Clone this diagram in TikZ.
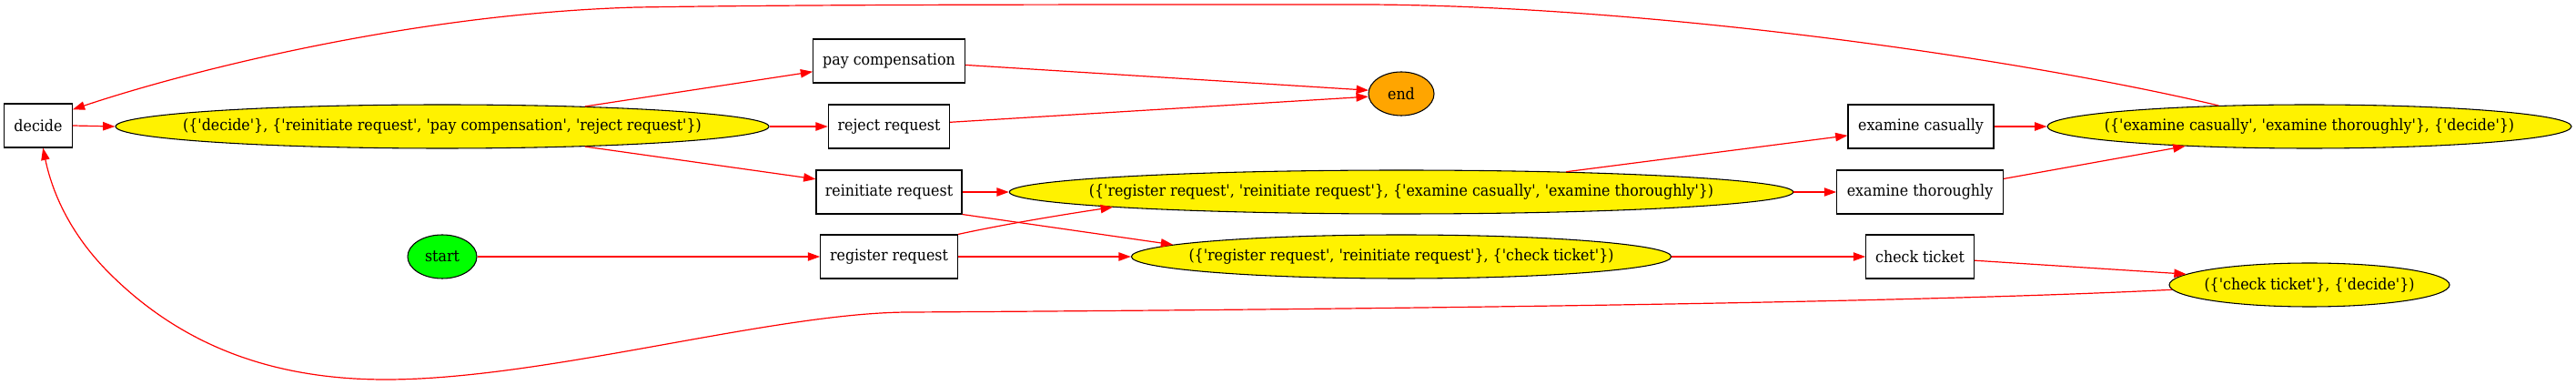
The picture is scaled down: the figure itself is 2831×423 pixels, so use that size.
\documentclass[tikz,border=0pt]{standalone}
\usepackage{fontspec}
\setmainfont{DejaVu Serif}[Ligatures=TeXOff,FakeStretch=0.915]
\usetikzlibrary{arrows.meta,shapes.geometric}
\newcommand{\fs}{\fontsize{13pt}{15pt}\selectfont}
\newcommand{\zw}[1]{\makebox[0pt]{#1}}
\definecolor{gvorange}{HTML}{FFA500}
\tikzset{
  box/.style={draw, line width=0.8pt, rectangle, minimum height=36pt, inner sep=0pt, font=\fs},
  ell/.style={draw, line width=0.8pt, ellipse, minimum height=36pt, inner sep=0pt, font=\fs, fill=yellow},
  edge/.style={draw=red, line width=0.9pt, -{Triangle[length=10pt,width=7pt]}}
}
\begin{document}
\begin{tikzpicture}[x=0.75pt,y=-0.75pt]
\useasboundingbox (0,0) rectangle (2831,423);
% nodes
\node[box, minimum width=56pt] (decide) at (42,138) {\zw{decide}};
\node[ell, minimum width=538.5pt] (e1) at (486,139) {\zw{(\{'decide'\}, \{'reinitiate request', 'pay compensation', 'reject request'\})}};
\node[ell, fill=green, minimum width=57pt] (start) at (486,282) {\zw{start}};
\node[box, minimum width=125pt] (pay) at (977,67) {\zw{pay compensation}};
\node[box, minimum width=100pt] (reject) at (977,139) {\zw{reject request}};
\node[box, minimum width=120pt] (reinit) at (977,211) {\zw{reinitiate request}};
\node[box, minimum width=113pt] (register) at (977,282) {\zw{register request}};
\node[ell, fill=gvorange, minimum width=54pt] (end) at (1540,103) {\zw{end}};
\node[ell, minimum width=646pt] (e2) at (1540,211) {\zw{(\{'register request', 'reinitiate request'\}, \{'examine casually', 'examine thoroughly'\})}};
\node[ell, minimum width=445pt] (e3) at (1540,282) {\zw{(\{'register request', 'reinitiate request'\}, \{'check ticket'\})}};
\node[box, minimum width=120pt] (exc) at (2111,139) {\zw{examine casually}};
\node[box, minimum width=137pt] (ext) at (2110,211) {\zw{examine thoroughly}};
\node[box, minimum width=89pt] (chk) at (2110,282) {\zw{check ticket}};
\node[ell, minimum width=432pt] (e4) at (2538,139) {\zw{(\{'examine casually', 'examine thoroughly'\}, \{'decide'\})}};
\node[ell, minimum width=231pt] (e5) at (2538,313) {\zw{(\{'check ticket'\}, \{'decide'\})}};
% edges
\draw[edge] (decide.east) -- (e1.west);
\draw[edge] (e1.8.3) -- (pay.188.9);
\draw[edge] (e1.east) -- (reject.west);
\draw[edge] (e1.-8.3) -- (reinit.170.8);
\draw[edge] (pay.-3.4) -- (end.174);
\draw[edge] (reject.4.3) -- (end.185);
\draw[edge] (reinit.east) -- (e2.west);
\draw[edge] (reinit.south east) -- (e3.177.1);
\draw[edge] (register.north east) .. controls (1110,245) and (1180,234) .. (e2.183.3);
\draw[edge] (register.east) -- (e3.west);
\draw[edge] (start.east) -- (register.west);
\draw[edge] (e2.7.07) -- (exc.187.8);
\draw[edge] (e2.east) -- (ext.west);
\draw[edge] (e3.east) -- (chk.west);
\draw[edge] (exc.east) -- (e4.west);
\draw[edge] (ext.9.9) -- (e4.189.4);
\draw[edge] (chk.-4.5) -- (e5.175.8);
\draw[edge] (e4.167.8) .. controls (2200,60) and (1800,6) .. (1500,5)
  .. controls (1100,5) and (900,5) .. (700,8)
  .. controls (450,15) and (200,80) .. (decide.25);
\draw[edge] (e5.182.55) .. controls (2100,333) and (1500,340) .. (1000,343)
  .. controls (850,343) and (600,417) .. (424,417)
  .. controls (300,417) and (200,380) .. (120,300)
  .. controls (70,250) and (55,200) .. (decide.-78);
\end{tikzpicture}
\end{document}
